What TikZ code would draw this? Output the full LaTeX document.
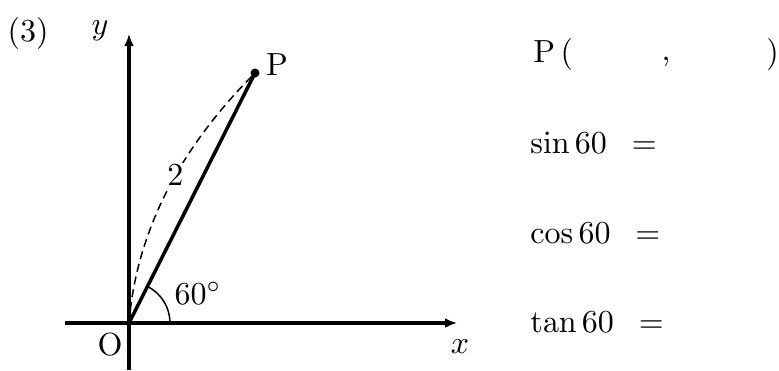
\documentclass[tikz,border=0pt]{standalone}
\usetikzlibrary{arrows.meta}
\newcommand{\sbx}[1]{\scalebox{1.6}{#1}}
\begin{document}
\begin{tikzpicture}[x=0.5pt,y=-0.5pt,
  every node/.style={font=\fontsize{10}{12}\selectfont, inner sep=0pt},
  axis/.style={line width=1.75pt,-{Latex[length=6pt,width=5pt]}},
  seg/.style={line width=1.75pt},
  thin line/.style={line width=0.75pt}]
\useasboundingbox (0,0) rectangle (779,370);
% points
\coordinate (O) at (129,323);
\coordinate (Xs) at (65,323);
\coordinate (Xe) at (457,323);
\coordinate (Ys) at (129,370);
\coordinate (Ye) at (129,34);
\coordinate (P) at (255,73);
% axes
\draw[axis] (Xs) -- (Xe);
\draw[axis] (Ys) -- (Ye);
% segment OP
\draw[seg] (O) -- (P);
\fill (P) circle (4.5);
% dashed curve with label 2
\draw[thin line, dash pattern=on 4pt off 2.5pt]
  (O) .. controls (136.3,233) and (178.3,149.7) .. (P)
  node[pos=0.57, fill=white, inner sep=1pt] (two) {\sbx{$2$}};
% angle arc
\draw[thin line] (170,323) arc[start angle=0, end angle=-63.2, radius=41];
% labels
\node (lab3) at (28,33) {\sbx{(3)}};
\node (ylab) at (100,31) {\sbx{$y$}};
\node (xlab) at (460,347) {\sbx{$x$}};
\node (olab) at (110,345) {\sbx{O}};
\node (plab) at (277,65) {\sbx{P}};
\node (ang) at (198,293) {\sbx{$60^\circ$}};
% right side
\node[anchor=base west] (pco) at (533,62) {\sbx{P\,(}};
\node[anchor=base] (comma) at (666,60) {\sbx{,}};
\node[anchor=base west] (pcl) at (766,62) {\sbx{)}};
\node[anchor=base west] (sinl) at (530,153) {\sbx{$\sin 60\enspace =$}};
\node[anchor=base west] (cosl) at (530,243) {\sbx{$\cos 60\enspace =$}};
\node[anchor=base west] (tanl) at (530,332) {\sbx{$\tan 60\enspace =$}};
\end{tikzpicture}
\end{document}
